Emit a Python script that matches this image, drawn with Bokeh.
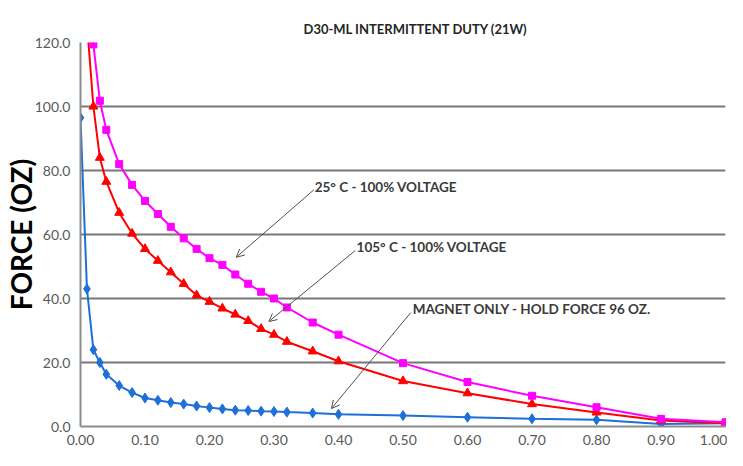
from bokeh.plotting import figure
from bokeh.models import Label, Arrow, OpenHead, FixedTicker, PrintfTickFormatter, Range1d
from bokeh.embed import file_html
from bokeh.resources import INLINE

title_text = "D30-ML INTERMITTENT DUTY (21W)"
y_label = "FORCE (OZ)"

x_ticks = [0.0, 0.1, 0.2, 0.3, 0.4, 0.5, 0.6, 0.7, 0.8, 0.9, 1.0]
y_ticks = [0, 20, 40, 60, 80, 100, 120]

x_magnet = [0.00, 0.01, 0.02, 0.03, 0.04, 0.06, 0.08, 0.10, 0.12, 0.14, 0.16, 0.18, 0.20,
            0.22, 0.24, 0.26, 0.28, 0.30, 0.32, 0.36, 0.40, 0.50, 0.60, 0.70, 0.80, 0.90, 1.00]
magnet_only = [96.5, 43, 24, 20, 16.3, 12.8, 10.6, 8.9, 8.2, 7.5, 7.0, 6.4, 5.9,
               5.5, 5.1, 5.0, 4.8, 4.7, 4.5, 4.2, 3.8, 3.4, 2.9, 2.4, 2.1, 0.8, 1.0]

x_voltage = [0.01, 0.02, 0.03, 0.04, 0.06, 0.08, 0.10, 0.12, 0.14, 0.16, 0.18, 0.20,
             0.22, 0.24, 0.26, 0.28, 0.30, 0.32, 0.36, 0.40, 0.50, 0.60, 0.70, 0.80, 0.90, 1.00]
hot_105c = [126, 100, 84, 76.5, 66.8, 60.3, 55.5, 51.8, 48.2, 44.6, 41.0, 39.0,
            36.9, 35.0, 33.0, 30.5, 28.7, 26.5, 23.5, 20.4, 14.2, 10.4, 7.0, 4.4, 1.9, 1.0]
cold_25c = [128, 119.4, 101.8, 92.7, 82.0, 75.5, 70.5, 66.4, 62.4, 58.8, 55.5, 52.6,
            50.5, 47.5, 44.6, 42.1, 40.0, 37.2, 32.5, 28.7, 19.8, 13.9, 9.6, 6.0, 2.4, 1.3]

notes = ["25\u00b0 C - 100% VOLTAGE", "105\u00b0 C - 100% VOLTAGE", "MAGNET ONLY - HOLD FORCE 96 OZ."]
note_pos = [(0.363, 74.9), (0.428, 56.0), (0.515, 36.8)]
arrow_start = [(0.362, 74.0), (0.426, 55.0), (0.512, 35.6)]
arrow_end = [(0.2415, 52.9), (0.292, 32.8), (0.389, 5.6)]

FONT = "Lato"

p = figure(width=727, height=450, output_backend="svg", toolbar_location=None,
           x_range=Range1d(0, 1.0), y_range=Range1d(0, 120),
           min_border_left=80, min_border_right=2, min_border_top=42, min_border_bottom=24)
p.title.text = title_text
p.title.align = "left"
p.title.offset = 223
p.title.standoff = 12
p.title.text_font = FONT
p.title.text_font_style = "bold"
p.title.text_font_size = "13px"
p.title.text_color = "#262626"

p.outline_line_color = None
p.background_fill_color = "white"
p.border_fill_color = "white"

p.xgrid.grid_line_color = None
p.ygrid.grid_line_color = "#777777"
p.ygrid.grid_line_width = 2
p.ygrid.ticker = FixedTicker(ticks=y_ticks)

for ax in (p.xaxis[0], p.yaxis[0]):
    ax.axis_line_color = "#8c8c8c"
    ax.axis_line_width = 2
    ax.major_tick_line_color = None
    ax.minor_tick_line_color = None
    ax.major_tick_out = 0
    ax.major_tick_in = 0
    ax.minor_tick_out = 0
    ax.major_label_text_color = "#595959"
    ax.major_label_text_font = FONT
    ax.major_label_text_font_size = "14px"

p.xaxis.ticker = FixedTicker(ticks=x_ticks)
p.xaxis.formatter = PrintfTickFormatter(format="%.2f")
p.xaxis.major_label_standoff = 8
p.yaxis.ticker = FixedTicker(ticks=y_ticks)
p.yaxis.formatter = PrintfTickFormatter(format="%.1f")
p.yaxis.major_label_standoff = 10
p.yaxis.axis_label = y_label
p.yaxis.axis_label_standoff = -6
p.yaxis.axis_label_text_font = FONT
p.yaxis.axis_label_text_font_style = "bold"
p.yaxis.axis_label_text_font_size = "28px"
p.yaxis.axis_label_text_color = "#000000"

blue = "#1f6fd8"
red = "#ff0000"
mag = "#ff00ff"

p.line(x_magnet, magnet_only, line_color=blue, line_width=2)
p.scatter(x_magnet, magnet_only, marker="diamond", size=10, fill_color=blue, line_color=blue)

p.line(x_voltage, hot_105c, line_color=red, line_width=2)
p.scatter(x_voltage, hot_105c, marker="triangle", size=9, fill_color=red, line_color=red)

p.line(x_voltage, cold_25c, line_color=mag, line_width=2)
p.scatter(x_voltage, cold_25c, marker="square", size=7, fill_color=mag, line_color=mag)

for (xs, ys), (xe, ye) in zip(arrow_start, arrow_end):
    p.add_layout(Arrow(x_start=xs, y_start=ys, x_end=xe, y_end=ye,
                       line_color="#505050", line_width=1,
                       end=OpenHead(size=8, line_color="#505050", line_width=1)))

for txt, (x, y) in zip(notes, note_pos):
    p.add_layout(Label(x=x, y=y, text=txt, text_font=FONT, text_font_style="bold",
                       text_font_size="13.5px", text_color="#3a3a3a", text_baseline="middle",
                       text_align="left"))

open("out.html", "w").write(file_html(p, INLINE))
